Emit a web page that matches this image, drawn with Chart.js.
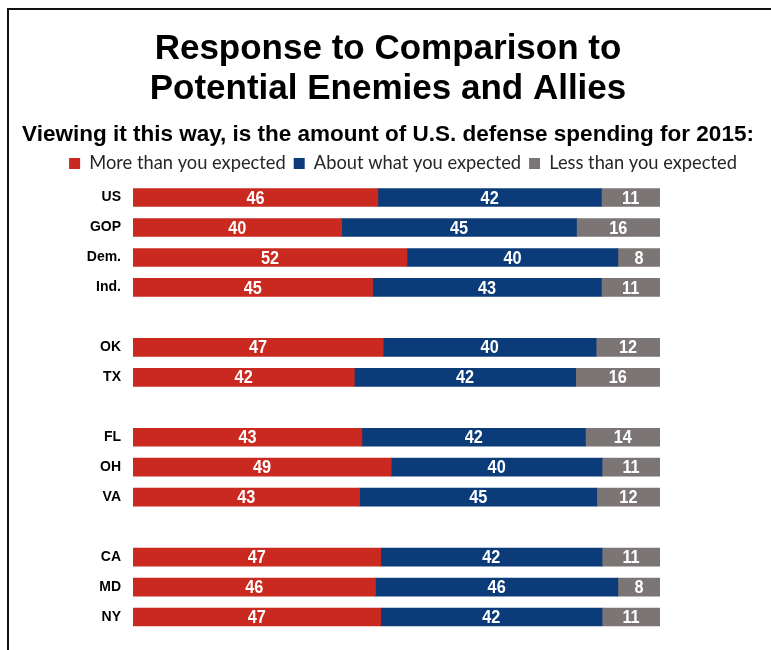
<!DOCTYPE html>
<html>
<head>
<meta charset="utf-8">
<script src="https://cdn.jsdelivr.net/npm/chart.js@4/dist/chart.umd.min.js"></script>
<style>
  html, body { margin: 0; padding: 0; background: #ffffff; }
  #wrap { width: 771px; height: 650px; position: relative; }
</style>
</head>
<body>
<div id="wrap"><canvas id="chart" width="771" height="650"></canvas></div>
<script>
// Survey groups (blank entries leave a gap between blocks of rows)
const groups = ['US', 'GOP', 'Dem.', 'Ind.', '', 'OK', 'TX', '', 'FL', 'OH', 'VA', '', 'CA', 'MD', 'NY'];
const moreThanExpected = [46, 40, 52, 45, null, 47, 42, null, 43, 49, 43, null, 47, 46, 47];
const aboutExpected    = [42, 45, 40, 43, null, 40, 42, null, 42, 40, 45, null, 42, 46, 42];
const lessThanExpected = [11, 16,  8, 11, null, 12, 16, null, 14, 11, 12, null, 11,  8, 11];
const seriesNames = ['More than you expected', 'About what you expected', 'Less than you expected'];
const seriesColors = ['#C9291F', '#0B3C79', '#7B7575'];
const titleLines = ['Response to Comparison to', 'Potential Enemies and Allies'];
const subtitleText = 'Viewing it this way, is the amount of U.S. defense spending for 2015:';

const rawSeries = [moreThanExpected, aboutExpected, lessThanExpected];

// Each row is drawn as a 100% stacked bar: shares of that row's total
const rowTotals = groups.map((_, i) =>
  rawSeries.reduce((s, arr) => s + (arr[i] == null ? 0 : arr[i]), 0));
const toShares = arr => arr.map((v, i) => v == null ? null : v / rowTotals[i] * 100);

const ARIAL = '"Liberation Sans", Arial, Helvetica, sans-serif';

// Black frame along the left and top edges
const framePlugin = {
  id: 'frame',
  beforeDraw(chart) {
    const ctx = chart.ctx;
    ctx.save();
    ctx.fillStyle = '#ffffff';
    ctx.fillRect(0, 0, chart.width, chart.height);
    ctx.strokeStyle = '#111111';
    ctx.lineWidth = 2;
    ctx.beginPath();
    ctx.moveTo(8, chart.height);
    ctx.lineTo(8, 9);
    ctx.lineTo(chart.width, 9);
    ctx.stroke();
    ctx.restore();
  }
};

// Nudge the legend row a little to the right
const legendShiftPlugin = {
  id: 'legendShift',
  afterLayout(chart) {
    if (!chart.legend) return;
    chart.legend.left += 15;
    chart.legend.right += 15;
  }
};

// White value labels centred in each segment, slightly condensed
const valueLabelPlugin = {
  id: 'valueLabels',
  afterDatasetsDraw(chart) {
    const ctx = chart.ctx;
    const squeeze = 0.88;
    ctx.save();
    ctx.fillStyle = '#ffffff';
    ctx.textAlign = 'center';
    ctx.textBaseline = 'middle';
    ctx.font = 'bold 18.5px ' + ARIAL;
    chart.data.datasets.forEach((ds, i) => {
      const meta = chart.getDatasetMeta(i);
      meta.data.forEach((el, j) => {
        const v = ds.rawValues[j];
        if (v == null) return;
        const p = el.getProps(['x', 'base', 'y'], true);
        const cx = (p.x + p.base) / 2;
        ctx.save();
        ctx.translate(cx, p.y + 1);
        ctx.scale(squeeze, 1);
        ctx.fillText(String(v), 0, 0);
        ctx.restore();
      });
    });
    ctx.restore();
  }
};

new Chart(document.getElementById('chart'), {
  type: 'bar',
  data: {
    labels: groups,
    datasets: seriesNames.map((name, i) => ({
      label: name,
      data: toShares(rawSeries[i]),
      rawValues: rawSeries[i],
      backgroundColor: seriesColors[i],
      borderWidth: 0,
      barThickness: 18
    }))
  },
  options: {
    indexAxis: 'y',
    responsive: false,
    animation: false,
    layout: { padding: { top: 10, left: 10, right: 5, bottom: 18 } },
    scales: {
      x: { stacked: true, min: 0, max: 100, display: false },
      y: {
        stacked: true,
        grid: { display: false },
        border: { display: false },
        ticks: {
          color: '#000000',
          padding: 4,
          font: { family: ARIAL, size: 14, weight: 'bold' }
        },
        afterFit(scale) { scale.width = 123; }
      },
      // empty margin on the right of the bars
      yMargin: {
        type: 'category',
        position: 'right',
        grid: { display: false },
        border: { display: false },
        ticks: { display: false },
        afterFit(scale) { scale.width = 106; }
      }
    },
    plugins: {
      title: {
        display: true,
        text: titleLines,
        color: '#000000',
        font: { family: ARIAL, size: 35, weight: 'bold', lineHeight: 1.15 },
        padding: { top: 19, bottom: 16 }
      },
      subtitle: {
        display: true,
        text: subtitleText,
        color: '#000000',
        font: { family: ARIAL, size: 22.5, weight: 'bold', lineHeight: 0.8 },
        padding: { top: 0, bottom: 2.75 }
      },
      legend: {
        display: true,
        position: 'top',
        labels: {
          boxWidth: 11,
          boxHeight: 11,
          padding: 8,
          color: '#262626',
          font: { family: 'Lato, "Open Sans", sans-serif', size: 18.3 }
        }
      },
      tooltip: { enabled: false }
    }
  },
  plugins: [framePlugin, legendShiftPlugin, valueLabelPlugin]
});
</script>
</body>
</html>
